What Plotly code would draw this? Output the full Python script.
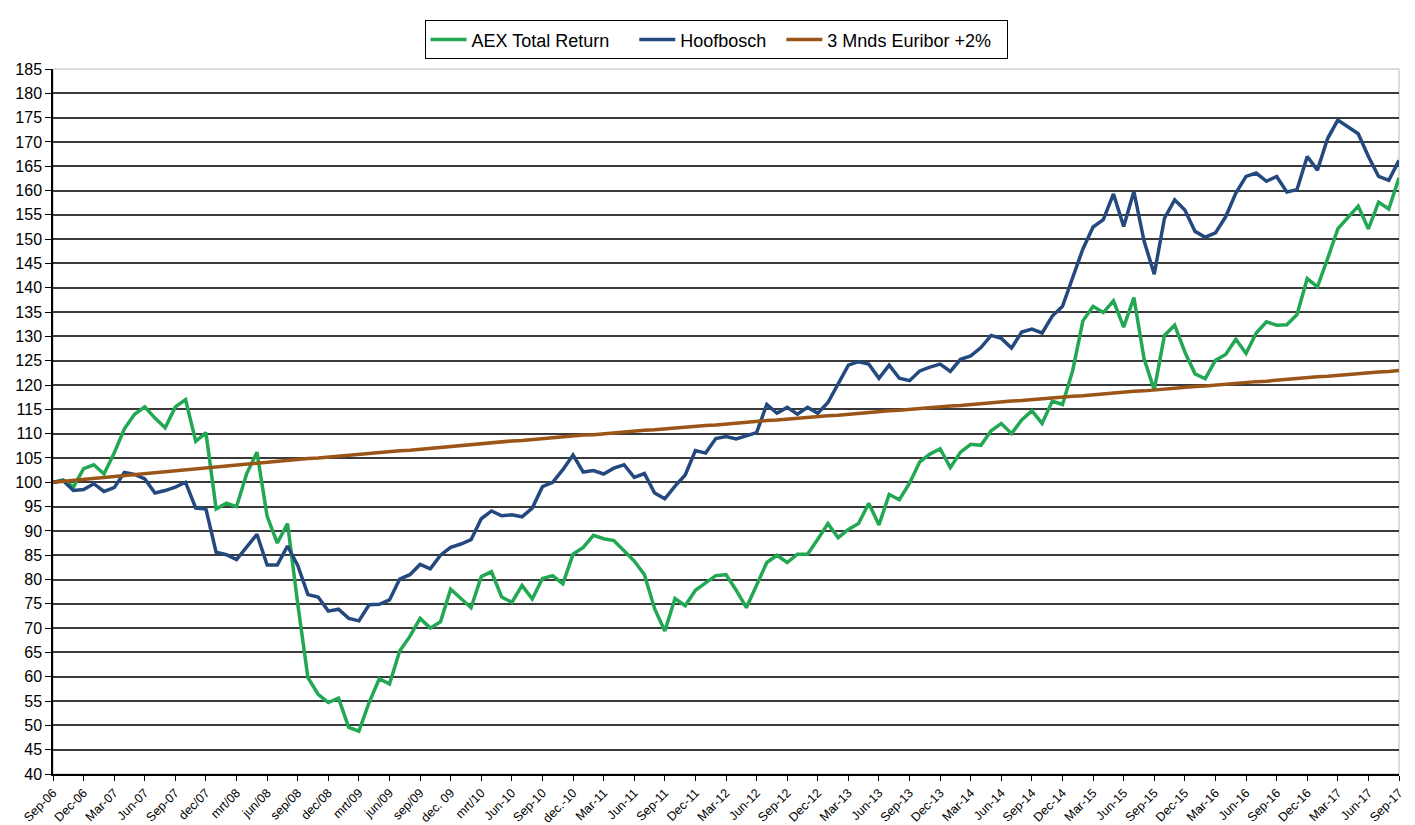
import plotly.graph_objects as go

tick_labels = ["Sep-06", "Dec-06", "Mar-07", "Jun-07", "Sep-07", "dec/07", "mrt/08", "jun/08",
               "sep/08", "dec/08", "mrt/09", "jun/09", "sep/09", "dec. 09", "mrt/10", "Jun-10",
               "Sep-10", "dec.-10", "Mar-11", "Jun-11", "Sep-11", "Dec-11", "Mar-12", "Jun-12",
               "Sep-12", "Dec-12", "Mar-13", "Jun-13", "Sep-13", "Dec-13", "Mar-14", "Jun-14",
               "Sep-14", "Dec-14", "Mar-15", "Jun-15", "Sep-15", "Dec-15", "Mar-16", "Jun-16",
               "Sep-16", "Dec-16", "Mar-17", "Jun-17", "Sep-17"]

aex = [100, 100.5, 99, 102.8, 103.6, 101.7, 106, 111, 114, 115.5, 113.2, 111.2, 115.5,
       117, 108.4, 110.2, 94.5, 95.7, 95, 101.8, 106.2, 93, 87.5, 91.5, 75,
       59.8, 56.4, 54.7, 55.6, 49.6, 48.8, 54.7, 59.6, 58.5, 65.3, 68.3, 72,
       70, 71.3, 78, 76.1, 74.2, 80.6, 81.6, 76.4, 75.3, 78.8, 76, 80.2,
       80.8, 79.1, 85.2, 86.6, 89.1, 88.4, 88, 85.9, 83.8, 81, 74, 69.4,
       76.1, 74.6, 77.8, 79.3, 80.8, 81, 77.8, 74.2, 79, 83.5, 85, 83.5,
       85.2, 85.2, 88.3, 91.5, 88.6, 90.3, 91.5, 95.7, 91.2, 97.5, 96.4, 99.8,
       104.2, 105.8, 106.9, 103, 106.2, 107.8, 107.6, 110.6, 112.1, 110, 112.8, 114.7,
       112.1, 116.7, 116, 123, 133.2, 136.2, 134.9, 137.3, 131.9, 138, 125.4, 119,
       130.2, 132.3, 126.8, 122.3, 121.3, 125.1, 126.3, 129.4, 126.5, 130.7, 133, 132.3,
       132.4, 134.5, 141.9, 140.2, 146, 152.1, 154.5, 156.8, 152.1, 157.6, 156.2, 162.6]

hoofbosch = [100, 100.3, 98.3, 98.5, 99.7, 98.1, 98.9, 102, 101.6, 100.7, 97.8, 98.3, 99,
             100, 94.7, 94.5, 85.6, 85.1, 84.1, 86.8, 89.3, 83, 83, 86.9, 82.9,
             76.9, 76.4, 73.5, 73.9, 72, 71.5, 74.8, 74.9, 75.8, 80.1, 81, 83.1,
             82.2, 85, 86.6, 87.3, 88.2, 92.5, 94.1, 93.1, 93.3, 92.9, 94.7, 99.1,
             100, 102.6, 105.6, 102.1, 102.4, 101.7, 102.9, 103.6, 101, 101.8, 97.8, 96.6,
             99.2, 101.5, 106.5, 106, 109, 109.4, 108.9, 109.6, 110.2, 116, 114.2, 115.4,
             114, 115.4, 114.2, 116.4, 120.3, 124.1, 124.8, 124.3, 121.4, 124.1, 121.4, 120.9,
             122.9, 123.7, 124.3, 122.8, 125.3, 126, 127.7, 130.2, 129.6, 127.6, 130.9, 131.5,
             130.7, 134.2, 136.2, 142, 148, 152.5, 154, 159.3, 152.6, 159.8, 149.6, 142.8,
             154.3, 158.1, 156, 151.6, 150.4, 151.3, 154.6, 159.5, 162.9, 163.6, 161.9, 162.9,
             159.7, 160.2, 167, 164.2, 170.7, 174.5, 173.1, 171.7, 167, 162.9, 162.1, 166.2]

euribor = [100, 100.2, 100.4, 100.6, 100.7, 100.9, 101.1, 101.3, 101.5, 101.7, 101.9, 102.1, 102.3,
           102.5, 102.7, 102.9, 103.1, 103.3, 103.5, 103.7, 103.9, 104.1, 104.3, 104.5, 104.7,
           104.9, 105.0, 105.2, 105.4, 105.6, 105.7, 105.9, 106.1, 106.3, 106.5, 106.6, 106.8,
           107.0, 107.2, 107.4, 107.6, 107.7, 107.9, 108.1, 108.3, 108.5, 108.6, 108.8, 109.0,
           109.2, 109.3, 109.5, 109.7, 109.8, 110.0, 110.2, 110.3, 110.5, 110.7, 110.8, 111.0,
           111.2, 111.3, 111.5, 111.7, 111.8, 112.0, 112.2, 112.3, 112.5, 112.7, 112.8, 113.0,
           113.2, 113.3, 113.5, 113.7, 113.8, 114.0, 114.2, 114.3, 114.5, 114.7, 114.8, 115.0,
           115.2, 115.3, 115.5, 115.7, 115.8, 116.0, 116.2, 116.3, 116.5, 116.7, 116.8, 117.0,
           117.2, 117.3, 117.5, 117.7, 117.8, 118.0, 118.2, 118.3, 118.5, 118.7, 118.8, 119.0,
           119.2, 119.3, 119.5, 119.7, 119.8, 120.0, 120.2, 120.3, 120.5, 120.7, 120.8, 121.0,
           121.2, 121.3, 121.5, 121.7, 121.8, 122.0, 122.2, 122.3, 122.5, 122.7, 122.8, 123.0]

series_names = ["AEX Total Return", "Hoofbosch", "3 Mnds Euribor +2%"]

months = list(range(len(aex)))
tick_vals = list(range(0, len(aex), 3))

FONT = "Arial, Liberation Sans, sans-serif"
NB = "\u00a0"

fig = go.Figure()
fig.add_trace(go.Scatter(x=months, y=aex, mode="lines", name=series_names[0] + NB * 4,
                         line=dict(color="#22A853", width=3.5)))
fig.add_trace(go.Scatter(x=months, y=hoofbosch, mode="lines", name=series_names[1] + NB * 2,
                         line=dict(color="#24497E", width=3.5)))
fig.add_trace(go.Scatter(x=months, y=euribor, mode="lines", name=series_names[2] + NB * 2,
                         line=dict(color="#9A5517", width=3.5)))

# page body has an 8px margin, so the figure is sized to fit inside the viewport
fig.update_layout(
    width=1407, height=817,
    margin=dict(l=45, r=16, t=53, b=51),
    paper_bgcolor="white", plot_bgcolor="white",
    font=dict(family=FONT, color="black"),
    showlegend=True,
    legend=dict(orientation="h", x=0.4926, xanchor="center", y=1.069, yanchor="top",
                bordercolor="black", borderwidth=1, bgcolor="white", itemwidth=36,
                font=dict(size=18, family=FONT), traceorder="normal"),
    shapes=[dict(type="rect", xref="paper", yref="paper", x0=0, x1=1, y0=0, y1=1,
                 line=dict(color="#b8b8b8", width=1), layer="below")],
)
fig.update_xaxes(range=[0, len(aex) - 1], tickmode="array", tickvals=tick_vals,
                 ticktext=tick_labels, tickangle=-45, tickfont=dict(size=12.5, family=FONT),
                 showgrid=False, showline=True, linecolor="black", linewidth=1.5,
                 ticks="outside", ticklen=5, tickcolor="black", zeroline=False,
                 automargin=False)
fig.update_yaxes(range=[40, 185], dtick=5, tick0=40, tickfont=dict(size=16, family=FONT),
                 showgrid=True, gridcolor="#3a3a3a", gridwidth=1.5,
                 showline=True, linecolor="black", linewidth=1.5,
                 ticks="outside", ticklen=6, tickcolor="black", zeroline=False,
                 automargin=False)

fig.write_html("out.html")
